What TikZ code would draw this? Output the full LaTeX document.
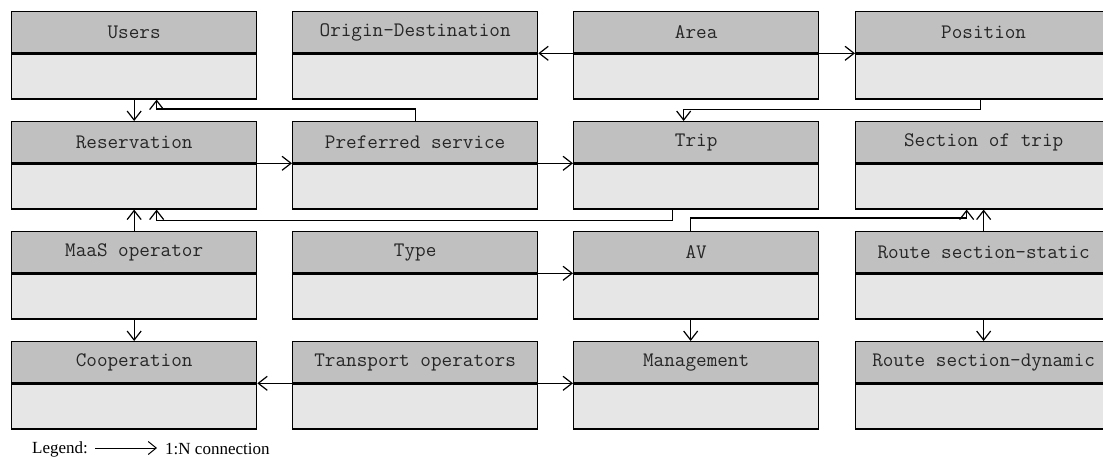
\documentclass[tikz,border=0pt]{standalone}
\usepackage{fontspec}
\setmainfont{Liberation Serif}
\usetikzlibrary{arrows.meta}
\definecolor{headfill}{HTML}{C0C0C0}
\definecolor{bodyfill}{HTML}{E6E6E6}
\definecolor{labeltext}{HTML}{262626}

\tikzset{
  head/.style={draw=black, line width=1.3pt, fill=headfill,
    minimum width=245pt, minimum height=41pt, anchor=north west,
    inner sep=0pt, text=labeltext, font=\fontsize{20.6}{22}\selectfont\ttfamily},
  body/.style={draw=black, line width=1.3pt, fill=bodyfill,
    minimum width=245pt, minimum height=45pt, anchor=north, inner sep=0pt},
  wide/.style={minimum width=256pt},
  sep/.style={line width=1.8pt},
  conn/.style={line width=1.2pt,
    -{Straight Barb[length=9pt,width=14pt,line width=1.2pt]}},
  legendtext/.style={font=\fontsize{17}{19}\selectfont, anchor=west, inner sep=0pt},
}

% entity: header box with title, body box below it
\newcommand\entity[5][]{%
  \node[head,#1] (#2) at (#3,#4) {#5};
  \node[body,#1] (#2-b) at (#2.south) {};
  \draw[sep] (#2.south west) -- (#2.south east);
}

\begin{document}
\begin{tikzpicture}[x=1pt,y=-1pt]
\useasboundingbox (0,0) rectangle (1103,460);
\clip (0,0) rectangle (1103,460);

% row 1
\entity{users}{11}{11}{Users}
\entity{od}{292}{11}{Origin-Destination}
\entity{area}{573}{11}{Area}
\entity[wide]{pos}{855}{11}{Position}
% row 2
\entity{res}{11}{121}{Reservation}
\entity{pref}{292}{121}{Preferred service}
\entity{trip}{573}{121}{Trip}
\entity[wide]{sec}{855}{121}{Section of trip}
% row 3
\entity{maas}{11}{231}{MaaS operator}
\entity{type}{292}{231}{Type}
\entity{av}{573}{231}{AV}
\entity[wide]{rss}{855}{231}{Route section-static}
% row 4
\entity{coop}{11}{341}{Cooperation}
\entity{tops}{292}{341}{Transport operators}
\entity{mgmt}{573}{341}{Management}
\entity[wide]{rsd}{855}{341}{Route section-dynamic}

% 1:N connections
\draw[conn] (users-b.south) -- (res.north);
\draw[conn] (pref.north) -- ++(0,-12) -| ([xshift=22.5pt]users-b.south);
\draw[conn] (area.south west) -- (od.south east);
\draw[conn] (area.south east) -- (pos.south west);
\draw[conn] ([xshift=-3pt]pos-b.south) -- ++(0,10) -| ([xshift=-12.5pt]trip.north);
\draw[conn] (res.south east) -- (pref.south west);
\draw[conn] (pref.south east) -- (trip.south west);
\draw[conn] ([xshift=-23.5pt]trip-b.south) -- ++(0,11) -| ([xshift=22.5pt]res-b.south);
\draw[conn] (maas.north) -- (res-b.south);
\draw[conn] ([xshift=-5.5pt]av.north) -- ++(0,-13) -| ([xshift=-17pt]sec-b.south);
\draw[conn] (rss.north) -- (sec-b.south);
\draw[conn] (rss-b.south) -- (rsd.north);
\draw[conn] (type.south east) -- (av.south west);
\draw[conn] ([xshift=-5.5pt]av-b.south) -- ([xshift=-5.5pt]mgmt.north);
\draw[conn] (maas-b.south) -- (coop.north);
\draw[conn] (tops.south west) -- (coop.south east);
\draw[conn] (tops.south east) -- (mgmt.south west);

% legend
\node[legendtext] (legend) at (32,449) {Legend:};
\coordinate (lg-a) at (95,448);
\coordinate (lg-b) at (157,448);
\draw[line width=1pt, -{Straight Barb[length=8pt,width=13pt,line width=1pt]}] (lg-a) -- (lg-b);
\node[legendtext] (legend-item) at (165,449) {1:N connection};
\end{tikzpicture}
\end{document}
